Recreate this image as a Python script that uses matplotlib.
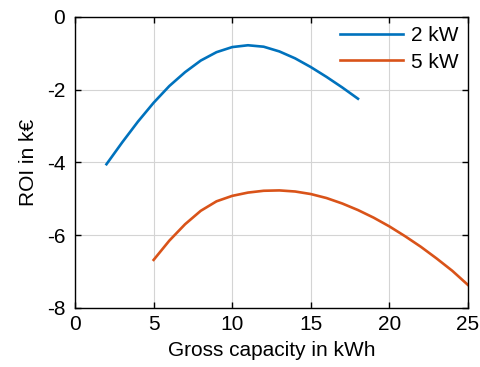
import numpy as np
import matplotlib.pyplot as plt

plt.rcParams['font.family'] = ['Liberation Sans', 'DejaVu Sans']

# Data
cap_2kw = np.arange(2, 19)
roi_2kw = [-4.05, -3.45, -2.88, -2.36, -1.90, -1.52, -1.20, -0.97, -0.83,
           -0.78, -0.82, -0.95, -1.14, -1.38, -1.65, -1.94, -2.25]
cap_5kw = np.arange(5, 26)
roi_5kw = [-6.68, -6.15, -5.70, -5.33, -5.07, -4.92, -4.83, -4.78, -4.77,
           -4.80, -4.87, -4.98, -5.13, -5.31, -5.52, -5.76, -6.03, -6.32,
           -6.64, -6.98, -7.37]

fig = plt.figure(figsize=(4.81, 3.67), dpi=100)
ax = fig.add_axes([0.156, 0.161, 0.817, 0.793])

ax.plot(cap_2kw, roi_2kw, color='#0072BD', lw=1.9, label='2 kW')
ax.plot(cap_5kw, roi_5kw, color='#D95319', lw=1.9, label='5 kW')

ax.set_xlim(0, 25)
ax.set_ylim(-8, 0)
ax.set_xticks([0, 5, 10, 15, 20, 25])
ax.set_yticks([-8, -6, -4, -2, 0])
ax.set_yticklabels(['-8', '-6', '-4', '-2', '0'])
ax.grid(True, color='#d4d4d4', lw=0.8)
ax.tick_params(direction='in', top=True, right=True, labelsize=15, length=4, width=1)
ax.tick_params(axis='x', pad=5)
ax.tick_params(axis='y', pad=7)
for s in ax.spines.values():
    s.set_linewidth(1)
ax.set_xlabel('Gross capacity in kWh', fontsize=15, labelpad=5)
ax.set_ylabel('ROI in k€', fontsize=15, labelpad=6)

ax.legend(loc='upper right', frameon=False, fontsize=15, handlelength=3.0,
          borderaxespad=0.05, labelspacing=0.35, handletextpad=0.4)

fig.savefig('out.png', dpi=100)
